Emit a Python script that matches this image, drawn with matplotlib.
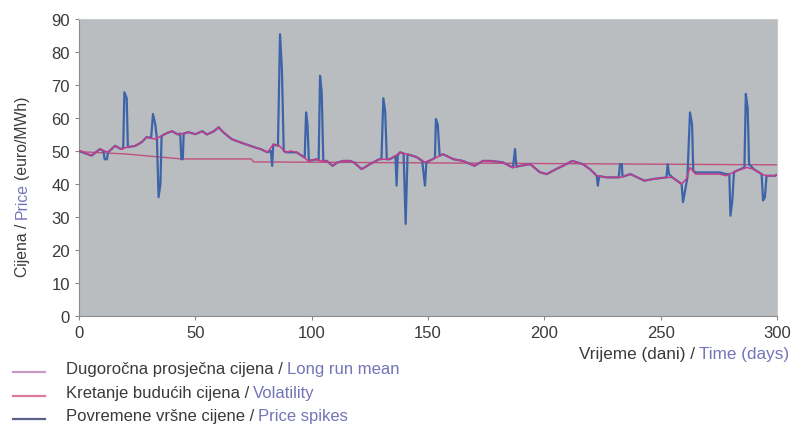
import matplotlib
matplotlib.use("Agg")
import matplotlib.pyplot as plt
from matplotlib.lines import Line2D

plt.rcParams['font.family'] = ['Liberation Sans', 'DejaVu Sans']

# Kretanje buducih cijena / Volatility (ocitano sa slike)
vol_days = [0, 1, 3, 5.4, 7, 9, 12.5, 15.5, 18, 21, 24, 27, 29, 32.7, 35.5, 38, 40, 42.5, 45, 47,
            50, 53, 55, 58, 60, 62, 65.6, 69, 71, 73.5, 76, 78, 81, 83.5, 86, 89, 91, 93.5, 95.7,
            98.5, 102, 104, 106.5, 109, 111, 113.5, 116.5, 118, 121.5, 125, 129, 133.6, 136, 138,
            141, 145, 148.7, 152, 156.5, 161, 165, 170, 173.6, 176.6, 182, 186, 189.5, 194, 198,
            201, 205, 208, 212, 216.6, 219.6, 222.5, 226.7, 232.5, 237, 243, 246.7, 252.5, 255,
            259, 261, 262.6, 265, 270, 275.5, 278, 282.6, 287, 290, 293.4, 295.5, 299, 300]
vol_vals = [50, 50, 49.2, 48.6, 49.5, 50.6, 49.6, 51.6, 50.6, 51.2, 51.5, 52.7, 54.2, 53.6, 54.6,
            55.5, 56, 55, 55.3, 55.7, 55.1, 56, 55, 56, 57.2, 55.7, 53.6, 52.7, 52.2, 51.6, 51,
            50.6, 49.6, 52, 51.6, 49.6, 50, 49.6, 48.6, 47, 47.5, 47, 47, 45.5, 46.5, 47, 47, 46.6,
            44.5, 46, 47.5, 47.5, 48.5, 49.6, 49, 48.2, 46.6, 47.5, 49, 47.5, 47, 45.5, 47, 47,
            46.6, 45, 45.5, 46, 43.6, 43, 44.5, 45.5, 47, 46, 44.5, 42.5, 42, 42, 43, 41, 41.5, 42,
            42, 40, 41.5, 45, 43, 43, 43, 42.5, 44, 45, 44.5, 43, 42.5, 42.5, 42.8]

# Povremene vrsne cijene / Price spikes
spike_days = [0, 3, 5.4, 7, 9, 10.5, 11, 12, 12.5, 15.5, 18, 19, 19.5, 20.5, 21, 24, 27, 29, 31,
              31.8, 32.8, 33.5, 34.2, 35, 35.5, 38, 40, 42.5, 43.5, 44, 44.6, 45, 47, 50, 53, 55,
              58, 60, 62, 65.6, 69, 71, 73.5, 76, 78, 81, 82.5, 83, 83.5, 85.5, 86.4, 87.2, 88, 89,
              93.5, 95.7, 97, 97.6, 98.2, 98.8, 102, 103, 103.6, 104.3, 105, 106.5, 109, 111,
              113.5, 116.5, 118, 121.5, 125, 129, 130, 130.8, 131.6, 132.3, 133.6, 136, 136.5, 137,
              138, 139.5, 140.4, 141.2, 145, 147.5, 148.7, 149.3, 152, 153, 153.4, 154.2, 155,
              156.5, 161, 165, 170, 173.6, 176.6, 182, 186.5, 187.4, 188, 189.5, 194, 198, 201, 205,
              208, 212, 216.6, 219.6, 222.5, 223, 223.6, 226.7, 232, 232.5, 233.3, 233.6, 237, 243,
              246.7, 252.5, 253, 253.6, 255, 257, 259, 259.6, 260.5, 261.5, 262.6, 263.5, 264, 265,
              275.5, 278, 279.5, 280, 280.8, 281.5, 282.6, 286, 286.6, 287.4, 288, 290, 293.4, 294,
              294.8, 295.5, 299, 300]
spike_vals = [50, 49.2, 48.6, 49.5, 50.6, 50, 47.5, 47.5, 49.6, 51.6, 50.6, 50.8, 67.8, 66, 51.2,
              51.5, 52.7, 54.2, 54, 61.2, 58, 53.6, 36, 40, 54.6, 55.5, 56, 55, 55.3, 47.5, 47.5,
              55.3, 55.7, 55.1, 56, 55, 56, 57.2, 55.7, 53.6, 52.7, 52.2, 51.6, 51, 50.6, 49.6, 50,
              45.5, 52, 51.6, 85.4, 75, 50, 49.6, 49.6, 48.6, 48, 61.7, 58, 47, 47.5, 47.2, 72.8,
              68, 47, 47, 45.5, 46.5, 47, 47, 46.6, 44.5, 46, 47.5, 47.5, 66, 62, 47.5, 47.5, 48.5,
              39.5, 48.8, 49.6, 49.3, 27.9, 49, 48.2, 47, 39.5, 46.6, 47.5, 48, 59.7, 58, 48.6, 49,
              47.5, 47, 45.5, 47, 47, 46.6, 45, 50.6, 45.2, 45.5, 46, 43.6, 43, 44.5, 45.5, 47, 46,
              44.5, 42.5, 39.5, 42.4, 42, 42, 46, 46, 42.2, 43, 41, 41.5, 42, 46, 43, 42, 41, 40,
              34.5, 38, 42, 61.7, 58, 44, 43.5, 43.5, 43, 43, 30.4, 35, 43.5, 44, 45, 67.3, 63, 46,
              44.5, 43, 35, 36, 42.5, 42.5, 42.8]

# Dugorocna prosjecna cijena / Long run mean
mean_days = [0, 20, 31, 44, 74, 75, 300]
mean_vals = [49.8, 49.1, 48.4, 47.6, 47.6, 46.7, 45.8]

x_ticks = [0, 50, 100, 150, 200, 250, 300]
y_ticks = [0, 10, 20, 30, 40, 50, 60, 70, 80, 90]

dark = '#3a3a3a'
lav = '#7474b8'
c_mean = '#c0507e'
c_vol = '#c83c8c'
c_spike = '#3d64a8'

fig = plt.figure(figsize=(7.91, 4.27), dpi=100)
ax = fig.add_axes([79 / 791, 1 - 317 / 427, 698 / 791, 297 / 427])
ax.set_facecolor('#b9bdc0')

ax.plot(mean_days, mean_vals, color=c_mean, lw=1.0, zorder=2)
ax.plot(spike_days, spike_vals, color=c_spike, lw=1.6, zorder=3)
ax.plot(vol_days, vol_vals, color=c_vol, lw=1.1, zorder=4)

ax.set_xlim(0, 300)
ax.set_ylim(0, 90)
ax.set_xticks(x_ticks)
ax.set_yticks(y_ticks)
ax.tick_params(labelsize=12, colors='#888888', labelcolor=dark, length=3, width=0.8)
for s in ['left', 'bottom']:
    ax.spines[s].set_color('#8c8c8c')
for s in ['top', 'right']:
    ax.spines[s].set_color('#c8cacc')

# os y - dvobojni natpis
t1 = fig.text(22 / 791, 1 - 277 / 427, 'Cijena /', rotation=90, ha='center', va='bottom',
              fontsize=11.3, color=dark)
t2 = ax.annotate('Price', xy=(0.5, 1), xycoords=t1, xytext=(0, 3), textcoords='offset points',
                 rotation=90, ha='center', va='bottom', fontsize=11.3, color=lav)
ax.annotate('(euro/MWh)', xy=(0.5, 1), xycoords=t2, xytext=(0, 3), textcoords='offset points',
            rotation=90, ha='center', va='bottom', fontsize=11.3, color=dark)

# os x
tx = fig.text(789 / 791, 1 - 355 / 427, 'Time (days)', ha='right', va='center',
              fontsize=12.3, color=lav)
ax.annotate('Vrijeme (dani) /', xy=(0, 0.5), xycoords=tx, xytext=(-3, 0),
            textcoords='offset points', ha='right', va='center', fontsize=12.3, color=dark)

# legenda
legend_rows = [
    ('Dugoročna prosječna cijena /', 'Long run mean', '#c89ac6', 370),
    ('Kretanje budućih cijena /', 'Volatility', '#e07a98', 394),
    ('Povremene vršne cijene /', 'Price spikes', '#5a6088', 417),
]
for hr, en, col, ypx in legend_rows:
    yf = 1 - (ypx + 3) / 427
    fig.add_artist(Line2D([13 / 791, 45 / 791], [yf, yf], color=col, lw=1.6))
    tt = fig.text(66 / 791, 1 - ypx / 427, hr, ha='left', va='center', fontsize=12, color=dark)
    ax.annotate(en, xy=(1, 0.5), xycoords=tt, xytext=(3, 0), textcoords='offset points',
                ha='left', va='center', fontsize=12, color=lav)

fig.savefig('out.png', dpi=100)
